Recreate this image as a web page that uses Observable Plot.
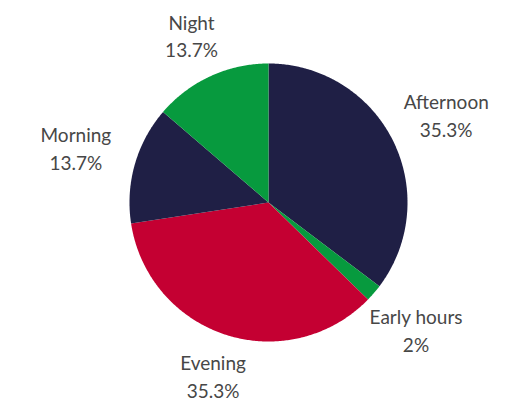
<!DOCTYPE html>
<html>
<head>
<meta charset="utf-8">
<script src="https://cdn.jsdelivr.net/npm/d3@7"></script>
<script src="https://cdn.jsdelivr.net/npm/@observablehq/plot@0.6"></script>
<style>
  html, body { margin: 0; padding: 0; background: #fff; }
  #chart svg { display: block; }
</style>
</head>
<body>
<div id="chart"></div>
<script>
const categories = ["Afternoon", "Early hours", "Evening", "Morning", "Night"];
const values = [35.3, 2, 35.3, 13.7, 13.7];
const labels = ["35.3%", "2%", "35.3%", "13.7%", "13.7%"];
const colors = ["#1f1f45", "#079a3e", "#c40032", "#1f1f45", "#079a3e"];

const arcs = d3.pie().sort(null).value(d => d)(values);

// polygon vertices for each slice in unit-circle coordinates
const polys = [];
arcs.forEach((a, i) => {
  polys.push({cat: categories[i], x: 0, y: 0});
  const n = Math.max(4, Math.ceil((a.endAngle - a.startAngle) / 0.01));
  for (let k = 0; k <= n; k++) {
    const t = a.startAngle + (a.endAngle - a.startAngle) * k / n;
    polys.push({cat: categories[i], x: Math.sin(t), y: Math.cos(t)});
  }
});

// label distance grows toward the sides (labels are wider than tall)
const labelData = arcs.map((a, i) => {
  const m = (a.startAngle + a.endAngle) / 2;
  const r = 1.24 + 0.21 * Math.abs(Math.sin(m));
  return {cat: categories[i], text: categories[i] + "\n" + labels[i], x: r * Math.sin(m), y: r * Math.cos(m)};
});

const chart = Plot.plot({
  width: 522,
  height: 408,
  marginLeft: 129,
  marginRight: 115,
  marginTop: 63,
  marginBottom: 67,
  x: {domain: [-1, 1], axis: null},
  y: {domain: [-1, 1], axis: null},
  color: {domain: categories, range: colors},
  style: {fontFamily: "Lato, 'Open Sans', sans-serif", background: "white"},
  marks: [
    Plot.line(polys, {x: "x", y: "y", z: "cat", fill: "cat", stroke: null, curve: "linear-closed"}),
    Plot.text(labelData, {x: "x", y: "y", text: "text", fill: "#474747", fontSize: 19, lineHeight: 1.45})
  ]
});
document.getElementById("chart").appendChild(chart);
</script>
</body>
</html>
